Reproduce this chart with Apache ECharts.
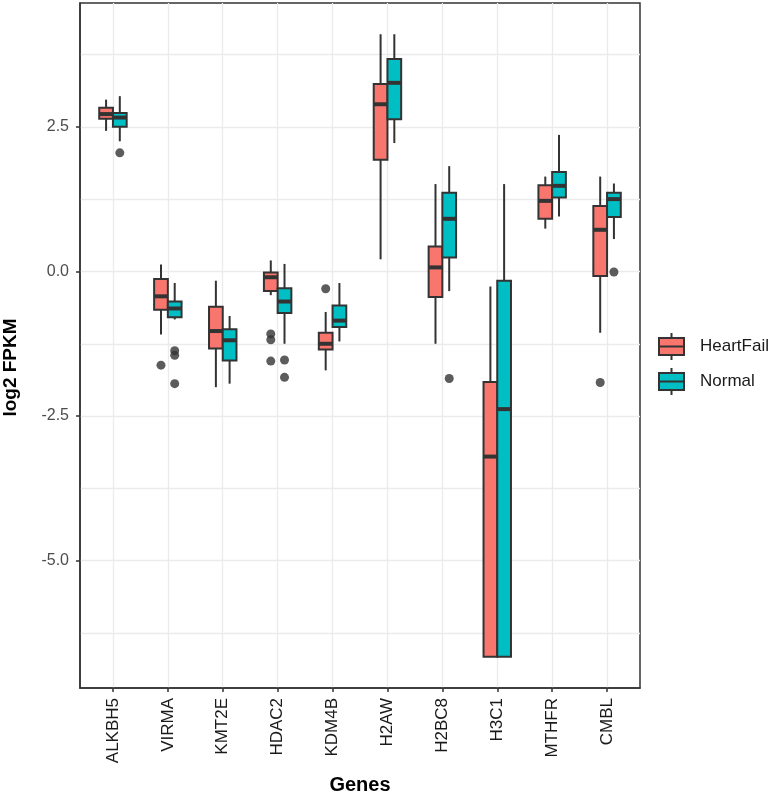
<!DOCTYPE html>
<html><head><meta charset="utf-8">
<script src="https://cdn.jsdelivr.net/npm/echarts@6/dist/echarts.min.js"></script>
<style>html,body{margin:0;padding:0;background:#fff}#c{width:770px;height:795px}</style>
</head><body><div id="c"></div>
<script>
// ---- data (each row: [lowerWhisker, Q1, median, Q3, upperWhisker]) ----
const genes = ['ALKBH5','VIRMA','KMT2E','HDAC2','KDM4B','H2AW','H2BC8','H3C1','MTHFR','CMBL'];
const heartFail = [
  [2.43, 2.64, 2.72, 2.83, 2.97],
  [-1.09, -0.66, -0.43, -0.13, 0.12],
  [-2.00, -1.33, -1.03, -0.61, -0.16],
  [-0.41, -0.34, -0.10, -0.02, 0.19],
  [-1.71, -1.35, -1.25, -1.06, -0.70],
  [0.21, 1.93, 2.89, 3.24, 4.10],
  [-1.25, -0.44, 0.07, 0.43, 1.51],
  [-6.66, -6.66, -3.20, -1.91, -0.26],
  [0.74, 0.91, 1.22, 1.49, 1.64],
  [-1.06, -0.08, 0.72, 1.13, 1.64]
];
const normal = [
  [2.25, 2.50, 2.66, 2.74, 3.03],
  [-0.83, -0.79, -0.64, -0.52, -0.20],
  [-1.94, -1.54, -1.19, -1.00, -0.77],
  [-1.25, -0.72, -0.52, -0.29, 0.13],
  [-1.21, -0.96, -0.85, -0.59, -0.20],
  [2.22, 2.63, 3.26, 3.67, 4.10],
  [-0.34, 0.24, 0.91, 1.36, 1.82],
  [-6.66, -6.66, -2.38, -0.16, 1.51],
  [0.95, 1.28, 1.48, 1.72, 2.36],
  [0.56, 0.94, 1.25, 1.36, 1.52]
];
// outliers: [gene index, value]
const heartFailOutliers = [[1,-1.62],[3,-1.08],[3,-1.18],[3,-1.55],[4,-0.30],[9,-1.92]];
const normalOutliers = [[0,2.05],[1,-1.37],[1,-1.45],[1,-1.94],[3,-1.53],[3,-1.83],[6,-1.85],[9,-0.01]];
const yTicks = [-5, -2.5, 0, 2.5];
const seriesNames = ['HeartFail','Normal'];

// ---- style ----
const COLORS = ['#F8766D', '#00BFC4'];
const DODGE = 0.125, HALF = 0.125;
const INK = '#333333';
const FONT = 'Liberation Sans, Arial, sans-serif';

function boxRender(offset, color) {
  return function (params, api) {
    const x = api.value(0) + offset;
    const lo = api.value(1), q1 = api.value(2), md = api.value(3), q3 = api.value(4), hi = api.value(5);
    const tl = api.coord([x - HALF, q3]);
    const br = api.coord([x + HALF, q1]);
    const cHi = api.coord([x, hi]), cQ3 = api.coord([x, q3]), cQ1 = api.coord([x, q1]), cLo = api.coord([x, lo]);
    const mL = api.coord([x - HALF, md]), mR = api.coord([x + HALF, md]);
    return {
      type: 'group',
      children: [
        { type: 'line', shape: { x1: cHi[0], y1: cHi[1], x2: cQ3[0], y2: cQ3[1] }, style: { stroke: INK, lineWidth: 2 } },
        { type: 'line', shape: { x1: cQ1[0], y1: cQ1[1], x2: cLo[0], y2: cLo[1] }, style: { stroke: INK, lineWidth: 2 } },
        { type: 'rect', shape: { x: tl[0], y: tl[1], width: br[0] - tl[0], height: br[1] - tl[1] }, style: { fill: color, stroke: INK, lineWidth: 2 } },
        { type: 'line', shape: { x1: mL[0], y1: mL[1], x2: mR[0], y2: mR[1] }, style: { stroke: INK, lineWidth: 4 } }
      ]
    };
  };
}

const boxIcon = 'path://M12.5,0L12.5,5M0,5L25,5L25,22L0,22ZM0,13.5L25,13.5M12.5,22L12.5,27';
const yMin = -7.2, yMax = 4.64, xMin = -0.6, xMax = 9.6;

const chart = echarts.init(document.getElementById('c'), null, { renderer: 'canvas' });
chart.setOption({
  animation: false,
  backgroundColor: '#ffffff',
  textStyle: { fontFamily: FONT },
  grid: { left: 80, right: 130, top: 3, bottom: 107, show: true, borderColor: INK, borderWidth: 1.5, backgroundColor: '#fff', outerBoundsMode: 'none' },
  legend: {
    orient: 'vertical', left: 658, top: 332, padding: 0,
    itemWidth: 25, itemHeight: 27, itemGap: 6,
    itemStyle: { borderColor: INK, borderWidth: 2 },
    textStyle: { fontSize: 17, color: '#1a1a1a', fontFamily: FONT, padding: [0, 0, 0, 11] },
    data: seriesNames.map(n => ({ name: n, icon: boxIcon }))
  },
  xAxis: [
    {
      type: 'value', position: 'bottom', min: xMin, max: xMax,
      name: 'Genes', nameLocation: 'middle', nameGap: 87,
      nameTextStyle: { fontSize: 20, fontWeight: 'bold', color: '#000', fontFamily: FONT },
      axisLine: { show: true, onZero: false, lineStyle: { color: INK, width: 1.5 } },
      axisTick: { show: true, length: 4, customValues: genes.map((g, i) => i), lineStyle: { color: INK, width: 1.5 } },
      axisLabel: { customValues: genes.map((g, i) => i), rotate: 90, margin: 10, fontSize: 17, color: '#1a1a1a',
        formatter: v => genes[Math.round(v)] },
      splitLine: { show: false }
    },
    {
      type: 'value', position: 'top', min: xMin, max: xMax, minInterval: 1, maxInterval: 1,
      axisLine: { show: false }, axisTick: { show: false }, axisLabel: { show: false },
      splitLine: { show: true, showMinLine: false, showMaxLine: false, lineStyle: { color: '#ebebeb', width: 1.3 } }
    }
  ],
  yAxis: [
    {
      type: 'value', position: 'left', min: yMin, max: yMax,
      name: 'log2 FPKM', nameLocation: 'middle', nameGap: 60,
      nameTextStyle: { fontSize: 19, fontWeight: 'bold', color: '#000', fontFamily: FONT, padding: [0, 44, 0, 0] },
      axisLine: { show: true, onZero: false, lineStyle: { color: INK, width: 1.5 } },
      axisTick: { show: true, length: 4, customValues: yTicks, lineStyle: { color: INK, width: 1.5 } },
      axisLabel: { customValues: yTicks, margin: 11, fontSize: 16, color: '#4d4d4d', formatter: v => v.toFixed(1) },
      splitLine: { show: false }
    },
    {
      type: 'value', position: 'right', min: yMin, max: yMax, minInterval: 1.25, maxInterval: 1.25,
      axisLine: { show: false }, axisTick: { show: false }, axisLabel: { show: false },
      splitLine: { show: true, showMinLine: false, showMaxLine: false, lineStyle: { color: '#ebebeb', width: 1.3 } }
    }
  ],
  series: [
    {
      name: seriesNames[0], type: 'custom', xAxisIndex: 0, yAxisIndex: 0,
      itemStyle: { color: COLORS[0] },
      renderItem: boxRender(-DODGE, COLORS[0]),
      encode: { x: 0, y: [1, 2, 3, 4, 5] },
      data: heartFail.map((r, i) => [i].concat(r)), z: 3
    },
    {
      name: seriesNames[1], type: 'custom', xAxisIndex: 0, yAxisIndex: 0,
      itemStyle: { color: COLORS[1] },
      renderItem: boxRender(DODGE, COLORS[1]),
      encode: { x: 0, y: [1, 2, 3, 4, 5] },
      data: normal.map((r, i) => [i].concat(r)), z: 3
    },
    {
      name: 'HeartFail outliers', type: 'scatter', xAxisIndex: 0, yAxisIndex: 0,
      symbolSize: 9, itemStyle: { color: INK }, z: 4,
      data: heartFailOutliers.map(([g, v]) => [g - DODGE, v])
    },
    {
      name: 'Normal outliers', type: 'scatter', xAxisIndex: 0, yAxisIndex: 0,
      symbolSize: 9, itemStyle: { color: INK }, z: 4,
      data: normalOutliers.map(([g, v]) => [g + DODGE, v])
    }
  ]
});
</script>
</body></html>
